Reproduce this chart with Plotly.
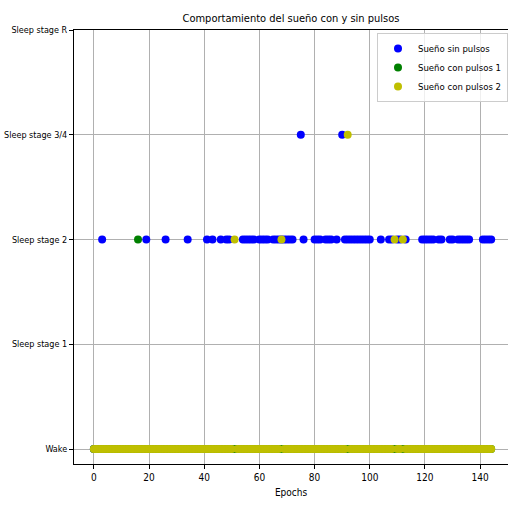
import plotly.graph_objects as go

# Hypnogram: 145 epochs, stage codes 0=Wake .. 4=REM
n_epochs = 145
epochs = list(range(n_epochs))

stage_names = ["Wake", "Sleep stage 1", "Sleep stage 2", "Sleep stage 3/4", "Sleep stage R"]
stage_codes = [0, 1, 2, 3, 4]

# Sleep without pulses: epochs in stage 2 and stage 3/4, the rest awake
sin_pulsos_s2 = [3, 19, 26, 34, 41, 43, 46, 48, 49, 54, 55, 56, 57, 58, 60, 61, 62, 63,
                 65, 66, 67, 68, 69, 70, 71, 72, 76, 80, 81, 82, 84, 85, 86, 88,
                 91, 92, 93, 94, 95, 96, 97, 98, 99, 100, 104, 107, 108, 110, 111, 113,
                 119, 120, 121, 122, 123, 125, 126, 129, 130, 132, 133, 134, 135, 136,
                 141, 142, 143, 144]
sin_pulsos_s34 = [75, 90]

# Sleep with pulses, session 1
pulsos1_s2 = [16]
pulsos1_s34 = []

# Sleep with pulses, session 2
pulsos2_s2 = [51, 68, 109, 112]
pulsos2_s34 = [92]


def build_stages(s2, s34):
    stages = []
    for e in epochs:
        if e in s34:
            stages.append(3)
        elif e in s2:
            stages.append(2)
        else:
            stages.append(0)
    return stages


series = [
    ("Sueño sin pulsos", build_stages(sin_pulsos_s2, sin_pulsos_s34), "#0000ff"),
    ("Sueño con pulsos 1", build_stages(pulsos1_s2, pulsos1_s34), "#008000"),
    ("Sueño con pulsos 2", build_stages(pulsos2_s2, pulsos2_s34), "#bfbf00"),
]

font_family = "DejaVu Sans Condensed, DejaVu Sans, sans-serif"

fig = go.Figure()
for name, stages, color in series:
    fig.add_trace(go.Scatter(
        x=epochs, y=stages, mode="markers", name=name,
        marker=dict(color=color, size=8, line=dict(width=0)),
    ))

fig.update_layout(
    width=508, height=508,
    margin=dict(l=74, r=0, t=30, b=44, autoexpand=False),
    paper_bgcolor="white", plot_bgcolor="white",
    font=dict(family=font_family, size=10, color="black"),
    title=dict(text="Comportamiento del sueño con y sin pulsos",
               xref="paper", x=0.5, xanchor="center",
               yref="container", y=0.965, yanchor="middle",
               font=dict(family=font_family, size=11, color="black")),
    showlegend=True,
    legend=dict(x=1.0, xanchor="right", y=0.993, yanchor="top",
                bgcolor="rgba(255,255,255,0.8)", bordercolor="#cccccc", borderwidth=1,
                font=dict(family=font_family, size=9.5), itemwidth=30,
                tracegroupgap=2),
)

fig.update_xaxes(
    range=[-7.2, 150.1], tickmode="array", tickvals=[0, 20, 40, 60, 80, 100, 120, 140],
    showgrid=True, gridcolor="#b0b0b0", gridwidth=1, zeroline=False,
    showline=True, linecolor="black", linewidth=1, mirror=True,
    ticks="outside", ticklen=4, tickcolor="black", automargin=False,
    tickfont=dict(size=10),
    title=dict(text="Epochs", font=dict(family=font_family, size=10), standoff=6),
)
fig.update_yaxes(
    range=[-0.143, 4.0], tickmode="array", tickvals=stage_codes, ticktext=stage_names,
    showgrid=True, gridcolor="#b0b0b0", gridwidth=1, zeroline=False,
    showline=True, linecolor="black", linewidth=1, mirror=False,
    ticks="outside", ticklen=4, tickcolor="black", automargin=False,
    tickfont=dict(size=9),
)

fig.write_html("out.html")
